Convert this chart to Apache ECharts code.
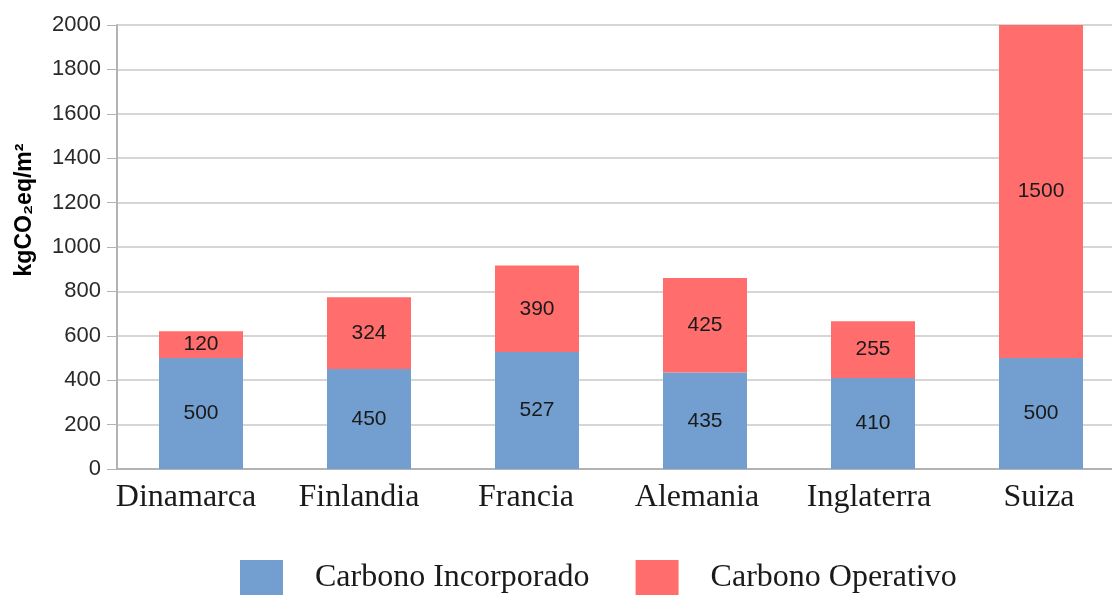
<!DOCTYPE html>
<html>
<head>
<meta charset="utf-8">
<script src="https://cdn.jsdelivr.net/npm/echarts@6/dist/echarts.min.js"></script>
<style>
  html, body { margin: 0; padding: 0; background: #fff; overflow: hidden; }
  #chart { width: 1125px; height: 595px; }
</style>
</head>
<body>
<div id="chart"></div>
<script>
// Embodied vs. operational carbon per country (kgCO2eq/m2)
const countries = ['Dinamarca', 'Finlandia', 'Francia', 'Alemania', 'Inglaterra', 'Suiza'];
const incorporado = [500, 450, 527, 435, 410, 500];
const operativo = [120, 324, 390, 425, 255, 1500];
const seriesNames = ['Carbono Incorporado', 'Carbono Operativo'];

// Leftward nudge (px) for each category label
const labelNudge = [15, 10, 11, 8, 4, 2];

const chart = echarts.init(document.getElementById('chart'), null, { renderer: 'canvas' });

const labelStyle = {
  show: true,
  position: 'inside',
  fontFamily: 'Liberation Sans',
  fontSize: 21,
  color: '#1a1a1a'
};

const catFont = {
  fontFamily: 'Liberation Serif',
  fontSize: 32,
  color: '#1a1a1a'
};
const catRich = {};
labelNudge.forEach((s, i) => {
  catRich['c' + i] = Object.assign({ padding: [0, 2 * s, 0, 0] }, catFont);
});

chart.setOption({
  animation: false,
  grid: { left: 117, right: 0, top: 25, bottom: 126, containLabel: false },
  legend: {
    left: 240,
    top: 560,
    padding: 0,
    itemWidth: 43,
    itemHeight: 36,
    itemGap: 46,
    icon: 'rect',
    textStyle: {
      fontFamily: 'Liberation Serif',
      fontSize: 32,
      color: '#1a1a1a',
      padding: [0, 0, 0, 27]
    },
    data: seriesNames
  },
  xAxis: {
    type: 'category',
    data: countries,
    axisLine: { lineStyle: { color: '#b3b3b3', width: 2 } },
    axisTick: { show: false },
    axisLabel: Object.assign({
      interval: 0,
      margin: 13,
      formatter: (v, i) => '{c' + i + '|' + v + '}',
      rich: catRich
    }, catFont)
  },
  yAxis: {
    type: 'value',
    min: 0,
    max: 2000,
    interval: 200,
    name: 'kgCO\u2082eq/m\u00b2',
    nameLocation: 'middle',
    nameGap: 81,
    nameRotate: 90,
    nameTextStyle: {
      fontFamily: 'Liberation Sans',
      fontSize: 23,
      fontWeight: 'bold',
      color: '#000',
      padding: [0, 0, 0, 74]
    },
    axisLine: { show: true, lineStyle: { color: '#b3b3b3', width: 2 } },
    axisTick: { show: true, length: 10, lineStyle: { color: '#b3b3b3', width: 1 } },
    axisLabel: {
      fontFamily: 'Liberation Sans',
      fontSize: 22,
      color: '#2a2a2a',
      margin: 16,
      formatter: (v) => String(v)
    },
    splitLine: { lineStyle: { color: '#c8c8c8', width: 1.5 } }
  },
  series: [
    {
      name: seriesNames[0],
      type: 'bar',
      stack: 'total',
      barWidth: '50%',
      data: incorporado,
      itemStyle: { color: '#729fcf' },
      label: labelStyle
    },
    {
      name: seriesNames[1],
      type: 'bar',
      stack: 'total',
      barWidth: '50%',
      data: operativo,
      itemStyle: { color: '#ff6d6d' },
      label: labelStyle
    }
  ]
});
</script>
</body>
</html>
